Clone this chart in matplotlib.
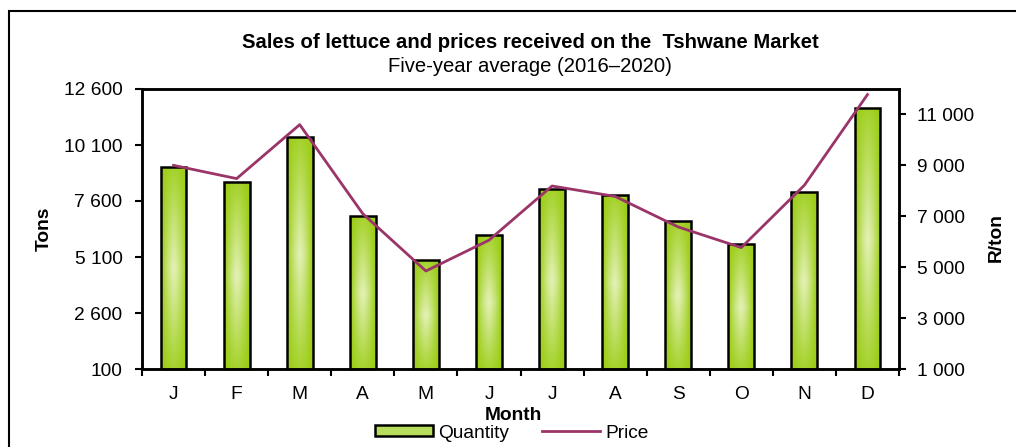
import numpy as np
import matplotlib
matplotlib.use("Agg")
import matplotlib.pyplot as plt
from matplotlib.patches import Rectangle
from matplotlib.lines import Line2D
from matplotlib.colors import LinearSegmentedColormap

plt.rcParams['font.family'] = ['Liberation Sans', 'DejaVu Sans']

months = ["J", "F", "M", "A", "M", "J", "J", "A", "S", "O", "N", "D"]
quantity = [9100, 8460, 10440, 6940, 4970, 6080, 8120, 7850, 6710, 5680, 7990, 11740]
price = [9000, 8480, 10600, 7100, 4850, 6060, 8190, 7780, 6580, 5770, 8220, 11780]

left_ticks = [100, 2600, 5100, 7600, 10100, 12600]
right_ticks = [1000, 3000, 5000, 7000, 9000, 11000]

green_dark = "#99CC11"
green_light = "#E3F1B6"
line_col = "#9B3468"
fs = 13.8


def fmt(v):
    return f"{v:,}".replace(",", " ")


def gradient_fill(ax, bars):
    cmap = LinearSegmentedColormap.from_list("g", [green_dark, green_light])
    u = np.linspace(-1, 1, 40)
    v = np.linspace(0, 1, 100)
    U, V = np.meshgrid(u, v)
    t = (1 - np.abs(U) ** 1.4) * np.clip(1 - np.abs(V - 0.5) / 0.6, 0, 1) ** 1.0
    for b in bars:
        x0, y0 = b.get_x(), b.get_y()
        im = ax.imshow(t, cmap=cmap, vmin=0, vmax=1, origin="lower", aspect="auto",
                       extent=[x0, x0 + b.get_width(), y0, y0 + b.get_height()],
                       zorder=2, interpolation="bilinear")
        im.set_clip_path(b)


def main():
    fig = plt.figure(figsize=(10.16, 4.47), dpi=100)
    ax = fig.add_axes([142 / 1016, 1 - 369 / 447, 757 / 1016, 280 / 447])
    x = np.arange(len(months))

    bars = ax.bar(x, quantity, width=0.41, bottom=0, color=green_dark, zorder=1)
    gradient_fill(ax, bars)
    ax.bar(x, quantity, width=0.41, fill=False, edgecolor="black", linewidth=1.8, zorder=3)

    ax.set_xlim(-0.5, len(months) - 0.5)
    ax.set_ylim(100, 12600)
    ax.set_yticks(left_ticks)
    ax.set_yticklabels([fmt(v) for v in left_ticks])
    ax.set_xticks(x)
    ax.set_xticklabels(months)
    ax.set_xticks(np.arange(-0.5, len(months)), minor=True)
    ax.tick_params(axis="x", which="major", length=0, pad=12, labelsize=fs)
    ax.tick_params(axis="x", which="minor", length=5, width=1.5, direction="out")
    ax.tick_params(axis="y", length=5, width=1.5, pad=9, labelsize=fs)

    ax2 = ax.twinx()
    ax2.plot(x, price, color=line_col, linewidth=2)
    ax2.set_ylim(1000, 12000)
    ax2.set_yticks(right_ticks)
    ax2.set_yticklabels([fmt(v) for v in right_ticks])
    ax2.tick_params(axis="y", length=5, width=1.5, pad=8, labelsize=fs)

    for a in (ax, ax2):
        for s in a.spines.values():
            s.set_linewidth(1.8)

    ax.set_ylabel("Tons", fontsize=fs, fontweight="bold")
    ax.yaxis.set_label_coords(-0.118, 0.5)
    ax2.set_ylabel("R/ton", fontsize=fs, fontweight="bold")
    ax2.yaxis.set_label_coords(1.117, 0.47)
    ax.set_xlabel("Month", fontsize=fs, fontweight="bold")
    ax.xaxis.set_label_coords(0.49, -0.135)

    fig.text(0.522, 1 - 42 / 447, "Sales of lettuce and prices received on the  Tshwane Market",
             ha="center", va="center", fontsize=14.6, fontweight="bold")
    fig.text(0.522, 1 - 66 / 447, "Five-year average (2016\u20132020)",
             ha="center", va="center", fontsize=14.6)

    handles = [Rectangle((0, 0), 1, 1, facecolor="#B8DD5C", edgecolor="black", linewidth=1.8),
               Line2D([0], [0], color=line_col, linewidth=2)]
    fig.legend(handles, ["Quantity", "Price"], loc="center", ncol=2,
               bbox_to_anchor=(512 / 1016, 1 - 433 / 447), frameon=False,
               fontsize=fs, handlelength=3.0, handleheight=0.55,
               handletextpad=0.3, columnspacing=1.7)

    fig.patches.append(Rectangle((9 / 1016, -0.1), 1.2, 1 - 11 / 447 + 0.1, fill=False,
                                 edgecolor="black", linewidth=1.5,
                                 transform=fig.transFigure, figure=fig))

    fig.savefig("out.png", dpi=100)


if __name__ == "__main__":
    main()
